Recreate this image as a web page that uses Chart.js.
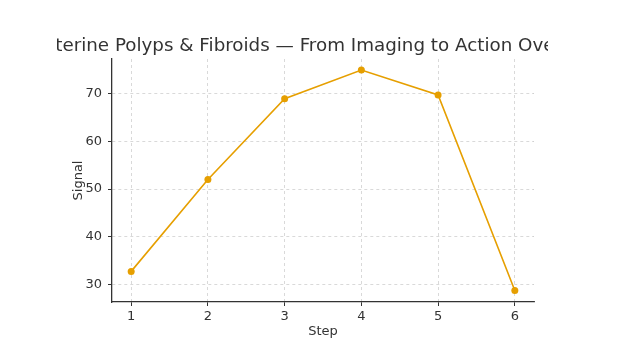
<!DOCTYPE html>
<html>
<head>
<meta charset="utf-8">
<script src="https://cdn.jsdelivr.net/npm/chart.js@4/dist/chart.umd.min.js"></script>
<style>
    html, body { margin: 0; padding: 0; background: #fff; }
    body { width: 620px; height: 360px; position: relative; overflow: hidden; }
    /* the original figure is cropped at both sides, so the title is cut */
    .contenedor { position: absolute; left: 57px; top: 0; width: 491px; height: 360px; }
</style>
</head>
<body>
<div class="contenedor"><canvas id="grafico"></canvas></div>
<script>
const TITULO = 'Uterine Polyps & Fibroids \u2014 From Imaging to Action Overview';
const pasos = [1, 2, 3, 4, 5, 6];
const senal = [32.8, 52.0, 68.9, 74.9, 69.7, 28.8];
const ticksY = [30, 40, 50, 60, 70];

const naranja = '#E69F00';
const texto = '#333333';
const fuente = 'DejaVu Sans';

// title centred over the plot area, clipped by the canvas edges
const tituloPlugin = {
    id: 'tituloRecortado',
    afterDraw(chart) {
        const ctx = chart.ctx;
        const area = chart.chartArea;
        ctx.save();
        ctx.font = '18.3px "' + fuente + '"';
        ctx.fillStyle = texto;
        ctx.textAlign = 'center';
        ctx.textBaseline = 'middle';
        ctx.fillText(TITULO, (area.left + area.right) / 2, 46);
        ctx.restore();
    }
};

const rejilla = {
    color: '#d0d0d0',
    lineWidth: 0.8,
    tickColor: texto,
    tickLength: 4,
    tickBorderDash: [],
    tickWidth: 1
};
const borde = { display: true, color: texto, width: 1.3, dash: [3, 3] };

document.addEventListener("DOMContentLoaded", function() {
    const ctx = document.getElementById('grafico').getContext('2d');
    new Chart(ctx, {
        type: 'line',
        data: {
            datasets: [{
                label: 'Signal',
                data: pasos.map((p, i) => ({ x: p, y: senal[i] })),
                borderColor: naranja,
                backgroundColor: naranja,
                borderWidth: 1.6,
                pointRadius: 3.5,
                pointHoverRadius: 3.5,
                pointBorderWidth: 0,
                tension: 0,
                fill: false
            }]
        },
        options: {
            responsive: true,
            maintainAspectRatio: false,
            animation: false,
            layout: { padding: { top: 59, right: 14, left: 14, bottom: 21 } },
            plugins: {
                legend: { display: false },
                title: { display: false },
                tooltip: { enabled: false }
            },
            scales: {
                x: {
                    type: 'linear',
                    min: 0.75,
                    max: 6.25,
                    afterBuildTicks: axis => { axis.ticks = pasos.map(v => ({ value: v })); },
                    afterFit: axis => { axis.height = 37; },
                    ticks: { color: texto, font: { family: fuente, size: 13 }, padding: 3 },
                    grid: rejilla,
                    border: borde,
                    title: {
                        display: true,
                        text: 'Step',
                        color: texto,
                        font: { family: fuente, size: 13 },
                        padding: 0
                    }
                },
                y: {
                    type: 'linear',
                    min: 26.4,
                    max: 77.2,
                    afterBuildTicks: axis => { axis.ticks = ticksY.map(v => ({ value: v })); },
                    afterFit: axis => { axis.width = 41; },
                    ticks: { color: texto, font: { family: fuente, size: 13 }, padding: 6 },
                    grid: rejilla,
                    border: borde,
                    title: {
                        display: true,
                        text: 'Signal',
                        color: texto,
                        font: { family: fuente, size: 13 },
                        padding: 0
                    }
                }
            }
        },
        plugins: [tituloPlugin]
    });
});
</script>
</body>
</html>
